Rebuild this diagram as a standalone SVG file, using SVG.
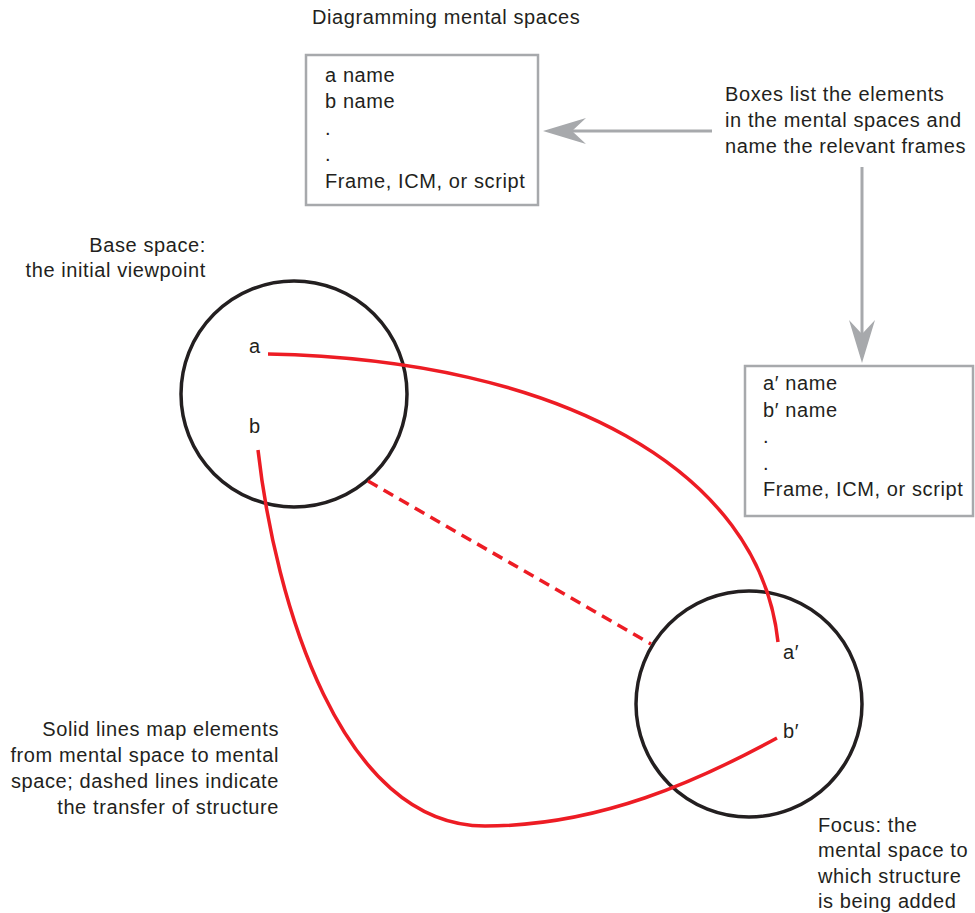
<svg xmlns="http://www.w3.org/2000/svg" width="975" height="913" viewBox="0 0 975 913">
<style>
text{font-family:"Liberation Sans",Arial,sans-serif;font-size:20px;letter-spacing:0.6px;fill:#231f20}
.r{text-anchor:end}
.box{fill:#fff;stroke:#a7a9ac;stroke-width:2.5}
.space{fill:none;stroke:#231f20;stroke-width:3.5}
.map{fill:none;stroke:#ed1c24;stroke-width:3.5}
.dash{stroke-dasharray:11 7}
.ptr{fill:none;stroke:#a7a9ac;stroke-width:3;marker-end:url(#ah)}
</style>
<defs>
<marker id="ah" markerUnits="userSpaceOnUse" viewBox="-45 -15 46 30" refX="-29" refY="0" markerWidth="46" markerHeight="30" orient="auto">
<path d="M0,0 L-43,-13 L-29,0 L-43,13 Z" fill="#a7a9ac"/>
</marker>
</defs>
<text x="312" y="24">Diagramming mental spaces</text>
<g id="box1">
<rect class="box" x="306" y="55" width="232" height="150"/>
<text x="325" y="82">a name</text>
<text x="325" y="108">b name</text>
<text x="325" y="135">.</text>
<text x="325" y="161">.</text>
<text x="325" y="188">Frame, ICM, or script</text>
</g>
<g id="box2">
<rect class="box" x="745" y="366" width="228" height="150"/>
<text x="763" y="390">a′ name</text>
<text x="763" y="417">b′ name</text>
<text x="763" y="443">.</text>
<text x="763" y="470">.</text>
<text x="763" y="496">Frame, ICM, or script</text>
</g>
<g id="note-boxes">
<text x="725" y="101">Boxes list the elements</text>
<text x="725" y="127">in the mental spaces and</text>
<text x="725" y="153">name the relevant frames</text>
</g>
<g id="base-label">
<text class="r" x="206" y="252">Base space:</text>
<text class="r" x="206" y="277">the initial viewpoint</text>
</g>
<g id="base-space">
<circle class="space" cx="294" cy="394" r="113"/>
<text x="249" y="353">a</text>
<text x="249" y="433">b</text>
</g>
<g id="focus-space">
<circle class="space" cx="749" cy="704" r="113"/>
<text x="783" y="659">a′</text>
<text x="783" y="738">b′</text>
</g>
<g id="note-lines">
<text class="r" x="279" y="736">Solid lines map elements</text>
<text class="r" x="279" y="762">from mental space to mental</text>
<text class="r" x="279" y="788">space; dashed lines indicate</text>
<text class="r" x="279" y="814">the transfer of structure</text>
</g>
<g id="focus-label">
<text x="818" y="832">Focus: the</text>
<text x="818" y="857">mental space to</text>
<text x="818" y="883">which structure</text>
<text x="818" y="908">is being added</text>
</g>
<g id="connectors">
<path class="ptr" d="M712,131 L572,131"/>
<path class="ptr" d="M862,167 L862,334"/>
<path class="map" d="M268,354 C560,360 760,470 778,642"/>
<path class="map" d="M258,450 C275,600 340,826 485,826 C600,826 700,780 777,738"/>
<path class="map dash" d="M368,481 L651,644"/>
</g>
</svg>
